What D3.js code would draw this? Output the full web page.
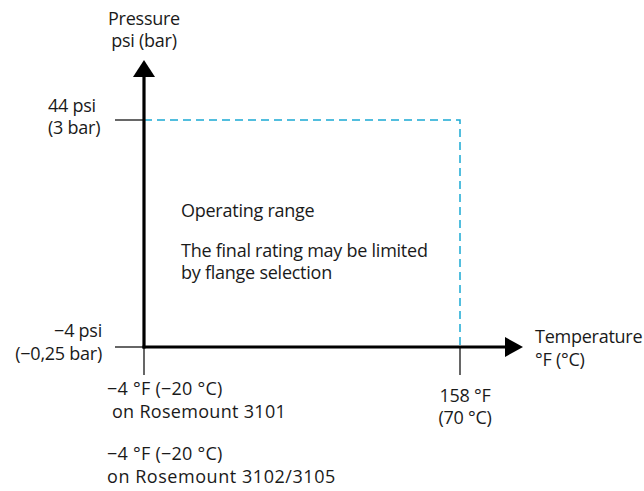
<!DOCTYPE html>
<html><head><meta charset="utf-8">
<script src="https://cdn.jsdelivr.net/npm/d3@7"></script>
<style>body{margin:0;background:#fff}text{font-family:"Open Sans",sans-serif;font-size:18px;letter-spacing:-0.25px;fill:#1a1a1a;white-space:pre}</style>
</head><body>
<svg id="c" width="644" height="491"></svg>
<script>
// Data
const tempTicks = [-4, 158];            // °F
const pressureTicks = [-4, 44];         // psi
const rangeTemp = [-4, 158];
const rangePressure = [-4, 44];
const pressureLabels = [["\u22124 psi", "(\u22120,25 bar)"], ["44 psi", "(3 bar)"]];
const tempLabels = [["158 \u00b0F", "(70 \u00b0C)"]];
const minTempNotes = [["\u22124 \u00b0F (\u221220 \u00b0C)", " on Rosemount 3101"], ["\u22124 \u00b0F (\u221220 \u00b0C)", "on Rosemount 3102/3105"]];
const noteLines = ["Operating range", "The final rating may be limited", "by flange selection"];

const svg = d3.select("#c");
const x = d3.scaleLinear().domain([-4, 158]).range([144, 460]);
const y = d3.scaleLinear().domain([-4, 44]).range([347, 120]);

// dashed operating range
svg.append("path")
  .attr("d", d3.line()([[x(rangeTemp[0]), y(rangePressure[1])], [x(rangeTemp[1]), y(rangePressure[1])], [x(rangeTemp[1]), y(rangePressure[0])]]))
  .attr("fill", "none").attr("stroke", "#1aa9d3").attr("stroke-width", 1.5).attr("stroke-dasharray", "8,5");

// ticks
svg.selectAll(".yt").data(pressureTicks).join("line")
  .attr("x1", 115).attr("x2", x(-4)).attr("y1", d => y(d)).attr("y2", d => y(d))
  .attr("stroke", "#000").attr("stroke-width", 1.2);
svg.selectAll(".xt").data(tempTicks).join("line")
  .attr("x1", d => x(d)).attr("x2", d => x(d)).attr("y1", y(-4)).attr("y2", 375)
  .attr("stroke", "#000").attr("stroke-width", 1.2);

// axes
const x0 = x(-4), y0 = y(-4);
svg.append("line").attr("x1", x0).attr("x2", x0).attr("y1", y0 + 1.5).attr("y2", 76).attr("stroke", "#000").attr("stroke-width", 3.2);
svg.append("path").attr("d", `M${x0},60L${x0 + 11},77L${x0 - 11},77Z`).attr("fill", "#000");
svg.append("line").attr("x1", x0 - 1.5).attr("x2", 506).attr("y1", y0).attr("y2", y0).attr("stroke", "#000").attr("stroke-width", 3.2);
svg.append("path").attr("d", `M523,${y0}L505,${y0 - 10}L505,${y0 + 10}Z`).attr("fill", "#000");

function txt(lines, xx, yy, anchor, lh, ls) {
  lines.forEach((l, i) => {
    const t = svg.append("text").attr("text-anchor", anchor || "start")
      .attr("x", xx).attr("y", yy + i * (lh || 22)).text(l);
    if (ls !== undefined) t.style("letter-spacing", ls[i] + "px");
  });
}
txt(["Pressure", "psi (bar)"], x0, 25, "middle", 22);
txt(pressureLabels[1], 48, 112, "start", 21.5);
txt(pressureLabels[0], 102, 337, "end", 22.5);
txt(["Temperature", "\u00b0F (\u00b0C)"], 535, 343, "start", 23);
txt(tempLabels[0], 465, 402, "middle", 21.5);
txt(minTempNotes[0], 107, 395, "start", 23, [0.25, 0.3]);
txt(minTempNotes[1], 107, 460, "start", 22.7, [0.25, 0.55]);
txt([noteLines[0]], 181, 217);
txt(noteLines.slice(1), 181, 257, "start", 21.5);
</script>
</body></html>
